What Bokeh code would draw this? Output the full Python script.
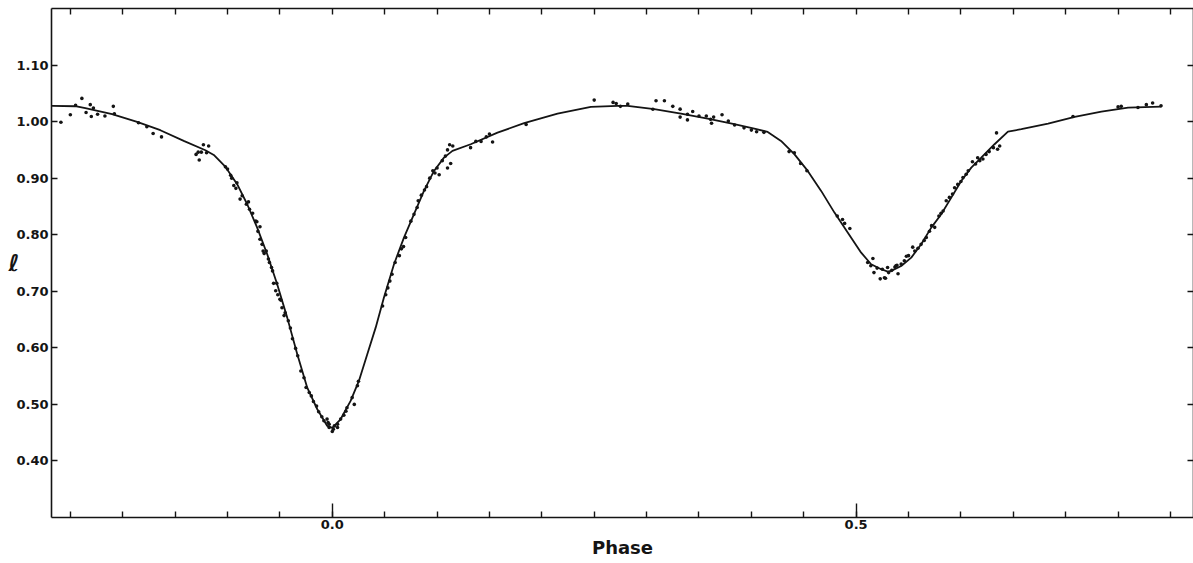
from bokeh.plotting import figure
from bokeh.models import LinearAxis, FixedTicker, PrintfTickFormatter, Range1d
from bokeh.embed import file_html
from bokeh.resources import INLINE

# ---------------- data ----------------
curve_phase = [-0.2675, -0.2453, -0.2357, -0.2102, -0.1863, -0.1641, -0.1418, -0.1211,
               -0.1131, -0.1019, -0.0908, -0.0812, -0.0717, -0.0621, -0.0526, -0.0430,
               -0.0334, -0.0239, -0.0143, -0.0048, 0.0, 0.0079, 0.0175, 0.0254, 0.0334,
               0.0414, 0.0493, 0.0589, 0.0684, 0.0780, 0.0875, 0.0971, 0.1066, 0.1147,
               0.1321, 0.1577, 0.1831, 0.2150, 0.2468, 0.2723, 0.2819, 0.3073, 0.3328,
               0.3583, 0.3837, 0.4028, 0.4156, 0.4283, 0.4410, 0.4538, 0.4666, 0.4793,
               0.4921, 0.5048, 0.5143, 0.5239, 0.5303, 0.5334, 0.5430, 0.5526, 0.5621,
               0.5717, 0.5812, 0.5908, 0.6003, 0.6099, 0.6194, 0.6321, 0.6449, 0.6577,
               0.6832, 0.7086, 0.7341, 0.7596, 0.7914]
curve_flux = [1.0278, 1.0272, 1.0237, 1.0131, 0.9995, 0.9848, 0.9659, 0.9494,
              0.9411, 0.9199, 0.8893, 0.8539, 0.8126, 0.7655, 0.7125, 0.6534,
              0.5887, 0.5296, 0.4914, 0.4619, 0.4584, 0.4737, 0.5061, 0.5415, 0.5887,
              0.6357, 0.6888, 0.7478, 0.7949, 0.8363, 0.8775, 0.9128, 0.9363, 0.9482,
              0.9600, 0.9805, 0.9972, 1.0141, 1.0260, 1.0278, 1.0278, 1.0219, 1.0141,
              1.0053, 0.9954, 0.9876, 0.9818, 0.9659, 0.9424, 0.9128, 0.8775, 0.8391,
              0.8037, 0.7683, 0.7478, 0.7390, 0.7347, 0.7360, 0.7448, 0.7595, 0.7832,
              0.8126, 0.8363, 0.8656, 0.8951, 0.9187, 0.9363, 0.9600, 0.9823, 0.9866,
              0.9965, 1.0083, 1.0177, 1.0248, 1.0265]

obs_phase = [-0.259, -0.250, -0.245, -0.239, -0.235, -0.231, -0.230, -0.228, -0.224, -0.217,
             -0.209, -0.208, -0.185, -0.177, -0.171, -0.163, -0.130, -0.128, -0.127, -0.125,
             -0.123, -0.120, -0.118, -0.102, -0.100, -0.097, -0.096, -0.092, -0.091, -0.086,
             -0.082, -0.080, -0.079, -0.073, -0.072, -0.069, -0.069, -0.067, -0.066, -0.065,
             -0.063, -0.061, -0.060, -0.058, -0.057, -0.056, -0.054, -0.053, -0.052, -0.050,
             -0.049, -0.048, -0.045, -0.042, -0.040, -0.035, -0.033, -0.030, -0.027, -0.022,
             -0.020, -0.015, -0.013, -0.010, -0.008, -0.005, -0.004, -0.003, -0.003, 0.000,
             0.001, 0.002, 0.005, 0.005, 0.008, 0.013, 0.014, 0.019, 0.024, 0.025,
             0.048, 0.051, 0.053, 0.057, 0.060, 0.064, 0.068, 0.070, 0.075, 0.078,
             0.081, 0.082, 0.088, 0.090, 0.093, 0.096, 0.100, 0.102, 0.105, 0.108,
             0.110, 0.110, 0.112, 0.113, 0.115, 0.132, 0.137, 0.142, 0.147, 0.150,
             0.153, 0.185, 0.250, 0.268, 0.271, 0.275, 0.282, 0.306, 0.309, 0.317,
             0.325, 0.332, 0.332, 0.339, 0.339, 0.344, 0.350, 0.357, 0.361, 0.362,
             0.364, 0.372, 0.378, 0.384, 0.393, 0.400, 0.405, 0.412, 0.436, 0.441,
             0.447, 0.453, 0.482, 0.487, 0.489, 0.494, 0.511, 0.514, 0.517, 0.520,
             0.523, 0.527, 0.528, 0.530, 0.531, 0.537, 0.538, 0.539, 0.540, 0.543,
             0.546, 0.550, 0.554, 0.556, 0.562, 0.567, 0.572, 0.575, 0.579, 0.583,
             0.586, 0.589, 0.594, 0.597, 0.602, 0.607, 0.611, 0.616, 0.621, 0.624,
             0.631, 0.634, 0.635, 0.637, 0.707, 0.750, 0.753, 0.769, 0.777, 0.783,
             0.791,
             -0.094, -0.088, -0.076, -0.071, -0.046, -0.038, -0.025, -0.018, 0.011, 0.021,
             0.055, 0.066, 0.085, 0.098, 0.548, 0.559, 0.565, 0.570, 0.581, 0.592,
             0.600, 0.605, 0.614, 0.618, 0.627, 0.516, 0.525, 0.534]
obs_flux = [0.999, 1.012, 1.029, 1.041, 1.016, 1.030, 1.009, 1.024, 1.013, 1.010,
            1.027, 1.014, 0.998, 0.991, 0.979, 0.973, 0.942, 0.946, 0.932, 0.946,
            0.959, 0.945, 0.957, 0.920, 0.916, 0.905, 0.900, 0.882, 0.892, 0.869,
            0.854, 0.858, 0.845, 0.824, 0.823, 0.814, 0.792, 0.783, 0.771, 0.767,
            0.771, 0.757, 0.751, 0.742, 0.736, 0.714, 0.701, 0.714, 0.694, 0.686,
            0.684, 0.671, 0.662, 0.648, 0.635, 0.599, 0.586, 0.559, 0.547, 0.521,
            0.515, 0.497, 0.487, 0.478, 0.471, 0.474, 0.468, 0.459, 0.465, 0.452,
            0.456, 0.462, 0.459, 0.465, 0.474, 0.488, 0.494, 0.512, 0.533, 0.541,
            0.674, 0.694, 0.706, 0.730, 0.751, 0.763, 0.779, 0.795, 0.824, 0.836,
            0.848, 0.860, 0.879, 0.885, 0.900, 0.913, 0.918, 0.906, 0.931, 0.939,
            0.918, 0.950, 0.959, 0.926, 0.957, 0.954, 0.965, 0.965, 0.973, 0.978,
            0.964, 0.995, 1.038, 1.034, 1.032, 1.027, 1.031, 1.022, 1.037, 1.037,
            1.027, 1.022, 1.008, 1.013, 1.003, 1.018, 1.010, 1.010, 1.004, 0.997,
            1.008, 1.012, 1.001, 0.994, 0.989, 0.985, 0.982, 0.981, 0.947, 0.945,
            0.926, 0.913, 0.833, 0.827, 0.820, 0.811, 0.751, 0.745, 0.733, 0.741,
            0.722, 0.724, 0.723, 0.742, 0.733, 0.743, 0.745, 0.746, 0.731, 0.748,
            0.754, 0.763, 0.778, 0.771, 0.783, 0.795, 0.816, 0.813, 0.833, 0.842,
            0.860, 0.866, 0.883, 0.889, 0.901, 0.913, 0.929, 0.936, 0.934, 0.942,
            0.954, 0.980, 0.951, 0.957, 1.009, 1.026, 1.027, 1.025, 1.030, 1.033,
            1.028,
            0.887, 0.863, 0.838, 0.806, 0.657, 0.616, 0.530, 0.505, 0.481, 0.500,
            0.718, 0.775, 0.870, 0.909, 0.762, 0.776, 0.790, 0.806, 0.838, 0.872,
            0.894, 0.907, 0.925, 0.931, 0.947, 0.758, 0.739, 0.737]

x_major_ticks = [0.0, 0.5]
x_minor_ticks = [-0.25, -0.20, -0.15, -0.10, -0.05, 0.0, 0.05, 0.10, 0.15, 0.20, 0.25,
                 0.30, 0.35, 0.40, 0.45, 0.50, 0.55, 0.60, 0.65, 0.70, 0.75, 0.80]
y_ticks = [0.40, 0.50, 0.60, 0.70, 0.80, 0.90, 1.00, 1.10]
x_title = "Phase"
y_title = "\u2113"

# ---------------- figure ----------------
INK = "#141414"
FONT = "DejaVu Sans"

p = figure(width=1193, height=563, output_backend="svg", toolbar_location=None,
           x_range=Range1d(-0.268, 0.822), y_range=Range1d(0.30, 1.20),
           min_border_left=51, min_border_right=0, min_border_top=8, min_border_bottom=46,
           background_fill_color="white", border_fill_color="white")
p.outline_line_color = None
p.xgrid.visible = False
p.ygrid.visible = False

xa = p.xaxis[0]
xa.ticker = FixedTicker(ticks=x_major_ticks, minor_ticks=x_minor_ticks)
xa.formatter = PrintfTickFormatter(format="%.1f")
xa.major_tick_in = 14
xa.major_tick_out = 0
xa.minor_tick_in = 6
xa.minor_tick_out = 0
xa.major_label_standoff = 2
xa.axis_label = x_title
xa.axis_label_standoff = 5
xa.axis_label_text_font_size = "18px"

ya = p.yaxis[0]
ya.ticker = FixedTicker(ticks=y_ticks)
ya.formatter = PrintfTickFormatter(format="%.2f")
ya.major_tick_in = 6
ya.major_tick_out = 0
ya.minor_tick_line_color = None
ya.major_label_standoff = 3
ya.axis_label = y_title
ya.axis_label_orientation = "horizontal"
ya.axis_label_standoff = -6
ya.axis_label_text_font_size = "23px"

top = LinearAxis(ticker=FixedTicker(ticks=x_minor_ticks), major_tick_in=6, major_tick_out=0,
                 minor_tick_line_color=None, major_label_text_font_size="1px",
                 major_label_text_color=None, major_label_standoff=0)
right = LinearAxis(ticker=FixedTicker(ticks=y_ticks), major_tick_in=6, major_tick_out=0,
                   minor_tick_line_color=None, major_label_text_font_size="1px",
                   major_label_text_color=None, major_label_standoff=0)
p.add_layout(top, "above")
p.add_layout(right, "right")

for ax in (xa, ya, top, right):
    ax.axis_line_color = INK
    ax.axis_line_width = 1.6
    ax.major_tick_line_color = INK
    ax.major_tick_line_width = 1.4
    ax.minor_tick_line_width = 1.4
    ax.major_label_text_font = FONT
    ax.major_label_text_font_style = "bold"
for ax in (xa, ya):
    ax.major_label_text_font_size = "13px"
    ax.major_label_text_color = INK
    ax.axis_label_text_font = FONT
    ax.axis_label_text_font_style = "bold"
    ax.axis_label_text_color = INK
xa.minor_tick_line_color = INK

p.line(curve_phase, curve_flux, line_color=INK, line_width=1.8)
p.scatter(obs_phase, obs_flux, size=3.6, color=INK, line_width=0)

open("out.html", "w").write(file_html(p, INLINE))
